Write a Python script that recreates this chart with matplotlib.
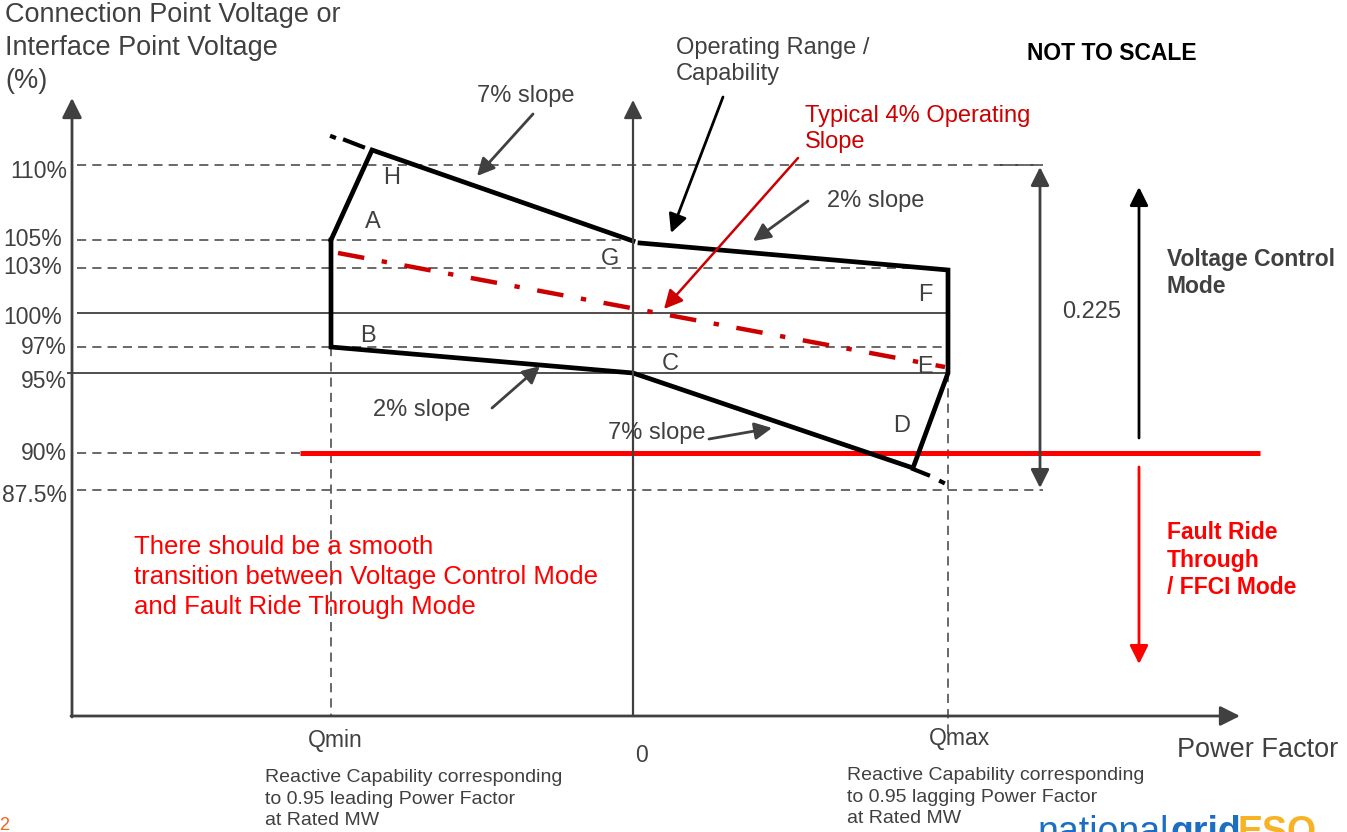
import matplotlib
matplotlib.use("Agg")
import matplotlib.pyplot as plt

plt.rcParams['font.family'] = ['Liberation Sans', 'DejaVu Sans']

GRAY = '#404040'
RED = '#FF0000'
DRED = '#CC0000'

# ---- data (diagram coordinates, "NOT TO SCALE") ----
level_labels = ['110%', '105%', '103%', '100%', '97%', '95%', '90%', '87.5%']
level_y = [165, 240, 268, 313, 347, 373, 453, 490]
level_label_y = [172, 240, 268, 318, 347, 381, 453, 495]
level_solid = [False, False, False, True, False, True, False, False]
level_xend = [1043, 633, 948, 948, 948, 948, 300, 1043]

q_labels = ['Qmin', '0', 'Qmax']
q_x = [331, 633, 948]

# capability polygon: A -> H -> G  and G -> F -> E -> D -> C -> B -> A
upper_x = [331, 372, 633]
upper_y = [240, 150, 241]
lower_x = [640, 948, 948, 913, 633, 331, 331]
lower_y = [243, 270, 373, 468, 373, 347, 240]
point_names = ['H', 'A', 'G', 'F', 'B', 'C', 'E', 'D']
point_lx = [392, 373, 610, 925, 368, 670, 925, 902]
point_ly = [178, 222, 259, 295, 336, 364, 367, 426]

op_slope_x = [338, 945]
op_slope_y = [253, 367]

frt_x = [300, 1260]
frt_y = 453

fig = plt.figure(figsize=(13.47, 8.32), dpi=100)
ax = fig.add_axes([0, 0, 1, 1])
ax.set_xlim(0, 1347)
ax.set_ylim(832, 0)
ax.axis('off')

# axes
ax.annotate('', xy=(72, 98), xytext=(72, 717),
            arrowprops=dict(arrowstyle='-|>', color=GRAY, lw=2, mutation_scale=30, shrinkA=0, shrinkB=0))
ax.annotate('', xy=(1240, 716), xytext=(71, 716),
            arrowprops=dict(arrowstyle='-|>', color=GRAY, lw=2, mutation_scale=30, shrinkA=0, shrinkB=0))
ax.annotate('', xy=(633, 100), xytext=(633, 716),
            arrowprops=dict(arrowstyle='-|>', color=GRAY, lw=1.6, mutation_scale=28, shrinkA=0, shrinkB=0))

# level lines
for lab, y, ly, solid, xe in zip(level_labels, level_y, level_label_y, level_solid, level_xend):
    if solid:
        x0 = 67 if lab == '95%' else 77
        ax.plot([x0, xe], [y, y], color=GRAY, lw=1.3, solid_capstyle='butt')
    else:
        ax.plot([77, xe], [y, y], color=GRAY, lw=1.1, linestyle=(0, (6, 4)))
    ax.text(67 if lab not in ('105%', '103%', '100%') else 62, ly, lab, ha='right', va='center',
            fontsize=16.5, color=GRAY)

# vertical dashed lines at Qmin / Qmax
ax.plot([331, 331], [347, 716], color=GRAY, lw=1.1, linestyle=(0, (6, 4)))
ax.plot([948, 948], [373, 740], color=GRAY, lw=1.1, linestyle=(0, (6, 4)))

# Fault ride through line
ax.plot(frt_x, [frt_y, frt_y], color=RED, lw=3.6, solid_capstyle='butt')

# capability polygon
ax.plot(upper_x, upper_y, color='black', lw=3.4, solid_joinstyle='miter')
ax.plot(lower_x, lower_y, color='black', lw=3.4, solid_joinstyle='miter')
# extensions
ax.plot([345, 363], [140, 147], color='black', lw=3)
ax.plot([332, 334], [136.5, 137.3], color='black', lw=3)
ax.plot([913, 928], [469, 475], color='black', lw=3)
ax.plot([941, 943], [481.5, 482.5], color='black', lw=3)

# operating slope
ax.plot(op_slope_x, op_slope_y, color=DRED, lw=3.2, linestyle=(0, (6, 4, 1.2, 4)))

for n, x, y in zip(point_names, point_lx, point_ly):
    ax.text(x, y, n, ha='center', va='center', fontsize=17, color=GRAY)

# annotations
arr = dict(arrowstyle='-|>', color=GRAY, lw=2, mutation_scale=26, shrinkA=0, shrinkB=0)
ax.text(526, 96, '7% slope', ha='center', va='center', fontsize=17, color=GRAY)
ax.annotate('', xy=(477, 176), xytext=(533, 114), arrowprops=arr)
ax.text(827, 201, '2% slope', ha='left', va='center', fontsize=17, color=GRAY)
ax.annotate('', xy=(753, 241), xytext=(808, 201), arrowprops=arr)
ax.text(373, 410, '2% slope', ha='left', va='center', fontsize=17, color=GRAY)
ax.annotate('', xy=(540, 366), xytext=(492, 408), arrowprops=arr)
ax.text(608, 433, '7% slope', ha='left', va='center', fontsize=17, color=GRAY)
ax.annotate('', xy=(772, 428), xytext=(709, 439), arrowprops=arr)

ax.text(676, 61, 'Operating Range /\nCapability', ha='left', va='center', fontsize=17,
        color=GRAY, linespacing=1.25)
ax.annotate('', xy=(671, 233), xytext=(723, 97),
            arrowprops=dict(arrowstyle='-|>', color='black', lw=2, mutation_scale=28, shrinkA=0, shrinkB=0))
ax.text(805, 129, 'Typical 4% Operating\nSlope', ha='left', va='center', fontsize=17,
        color=DRED, linespacing=1.25)
ax.annotate('', xy=(664, 309), xytext=(798, 158),
            arrowprops=dict(arrowstyle='-|>', color=DRED, lw=1.8, mutation_scale=28, shrinkA=0, shrinkB=0))

ax.text(1112, 54, 'NOT TO SCALE', ha='center', va='center', fontsize=16.5,
        fontweight='bold', color='black')

# range double arrow
ax.plot([1000, 1043], [165, 165], color=GRAY, lw=1.1, linestyle=(0, (6, 4)))
ax.annotate('', xy=(1040, 167), xytext=(1040, 488),
            arrowprops=dict(arrowstyle='<|-|>', color=GRAY, lw=2, mutation_scale=28, shrinkA=0, shrinkB=0))
ax.text(1092, 312, '0.225', ha='center', va='center', fontsize=17, color=GRAY)

# mode arrows
ax.annotate('', xy=(1139, 187), xytext=(1139, 438),
            arrowprops=dict(arrowstyle='-|>', color='black', lw=2, mutation_scale=28, shrinkA=0, shrinkB=0))
ax.annotate('', xy=(1139, 664), xytext=(1139, 467),
            arrowprops=dict(arrowstyle='-|>', color=RED, lw=2, mutation_scale=28, shrinkA=0, shrinkB=0))
ax.text(1167, 273, 'Voltage Control\nMode', ha='left', va='center', fontsize=16.5,
        fontweight='bold', color=GRAY, linespacing=1.25)
ax.text(1167, 560, 'Fault Ride\nThrough\n/ FFCI Mode', ha='left', va='center', fontsize=16.5,
        fontweight='bold', color=RED, linespacing=1.27)

ax.text(134, 577, 'There should be a smooth\ntransition between Voltage Control Mode\nand Fault Ride Through Mode',
        ha='left', va='center', fontsize=18.5, color=RED, linespacing=1.3)

# title
ax.text(5, 48, 'Connection Point Voltage or\nInterface Point Voltage\n(%)', ha='left', va='center',
        fontsize=19.5, color=GRAY, linespacing=1.36)

# Q labels
ax.text(q_x[0] + 4, 741, q_labels[0], ha='center', va='center', fontsize=16.5, color=GRAY)
ax.text(q_x[1] + 8, 755, q_labels[1], ha='center', va='center', fontsize=16.5, color=GRAY)
ax.text(q_x[2] + 12, 739, q_labels[2], ha='center', va='center', fontsize=16.5, color=GRAY)
ax.text(1258, 750, 'Power Factor', ha='center', va='center', fontsize=19.5, color=GRAY)

ax.text(265, 799, 'Reactive Capability corresponding\nto 0.95 leading Power Factor\nat Rated MW',
        ha='left', va='center', fontsize=14, color=GRAY, linespacing=1.36)
ax.text(847, 797, 'Reactive Capability corresponding\nto 0.95 lagging Power Factor\nat Rated MW',
        ha='left', va='center', fontsize=14, color=GRAY, linespacing=1.36)

# footer
ax.text(-1, 826, '2', ha='left', va='center', fontsize=13, color='#F26522')
ax.text(1037, 843, 'national', ha='left', va='baseline', fontsize=27, color='#1B6EC2')
ax.text(1170, 843, 'grid', ha='left', va='baseline', fontsize=27, fontweight='bold', color='#1B6EC2')
ax.text(1238, 843, 'ESO', ha='left', va='baseline', fontsize=27, fontweight='bold', color='#F7B325')

fig.savefig('out.png', dpi=100)
